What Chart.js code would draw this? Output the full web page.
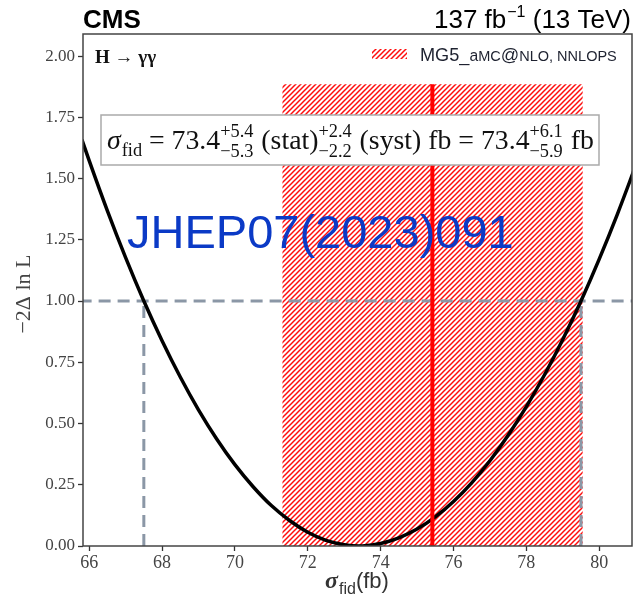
<!DOCTYPE html>
<html><head><meta charset="utf-8">
<script src="https://cdn.jsdelivr.net/npm/chart.js@4.4.1/dist/chart.umd.min.js"></script>
<style>html,body{margin:0;padding:0;background:#fff;}canvas{display:block;}</style>
</head><body>
<canvas id="c" width="633" height="597"></canvas>
<script>
// ---- data ----
const scanX = [65.8, 66, 66.5, 67, 67.5, 68, 68.5, 69, 69.5, 70, 70.5, 71, 71.5, 72, 72.5, 73, 73.4, 73.5, 74, 74.5, 75, 75.5, 76, 76.5, 77, 77.5, 78, 78.5, 79, 79.5, 80, 80.5, 81];
const scanY = [1.659, 1.573, 1.368, 1.177, 1.0, 0.838, 0.690, 0.556, 0.437, 0.332, 0.242, 0.165, 0.104, 0.056, 0.023, 0.005, 0.0, 0.0003, 0.010, 0.033, 0.069, 0.119, 0.182, 0.258, 0.348, 0.452, 0.569, 0.699, 0.843, 1.0, 1.171, 1.355, 1.552];
const bandX = [71.3, 79.55];
const bandTop = [1.885, 1.885];
const predX = [75.42, 75.42];
const predY = [0, 1.885];
const oneSigmaX = [67.5, 79.5];
const levelY = [1.0];
const xTicks = [66, 68, 70, 72, 74, 76, 78, 80];
const yTicks = [0, 0.25, 0.5, 0.75, 1.0, 1.25, 1.5, 1.75, 2.0];

// hatch pattern
function hatch() {
  const p = document.createElement('canvas');
  p.width = 5; p.height = 5;
  const g = p.getContext('2d');
  g.strokeStyle = 'rgba(255,0,0,0.95)';
  g.lineWidth = 1.5;
  g.beginPath();
  g.moveTo(0, 5); g.lineTo(5, 0);
  g.moveTo(-1, 1); g.lineTo(1, -1);
  g.moveTo(4, 6); g.lineTo(6, 4);
  g.stroke();
  return document.getElementById('c').getContext('2d').createPattern(p, 'repeat');
}
const pat = hatch();

const GRAY = '#8b97a6';
const SERIF = '"Liberation Serif", "DejaVu Serif", serif';
const SANS = '"Liberation Sans", Arial, sans-serif';

const overlay = {
  id: 'overlay',
  afterDraw(chart) {
    const ctx = chart.ctx, a = chart.chartArea;
    ctx.save();
    // frame
    ctx.strokeStyle = '#444'; ctx.lineWidth = 1.5;
    ctx.strokeRect(a.left, a.top, a.right - a.left, a.bottom - a.top);
    // header
    ctx.fillStyle = '#000'; ctx.textBaseline = 'alphabetic';
    ctx.font = 'bold 26px ' + SANS; ctx.textAlign = 'left';
    ctx.fillText('CMS', 83, 28);
    // lumi text right-aligned
    ctx.font = '26px ' + SANS;
    const p1 = '137 fb', p2 = '\u22121', p3 = ' (13 TeV)';
    const w1 = ctx.measureText(p1).width, w3 = ctx.measureText(p3).width;
    ctx.font = '16px ' + SANS; const w2 = ctx.measureText(p2).width;
    let x = 631 - (w1 + w2 + w3 + 1);
    ctx.font = '26px ' + SANS; ctx.fillText(p1, x, 28); x += w1 + 1;
    ctx.font = '16px ' + SANS; ctx.fillText(p2, x, 17); x += w2;
    ctx.font = '26px ' + SANS; ctx.fillText(p3, x, 28);
    // H -> gamma gamma
    ctx.font = 'bold 19px ' + SERIF; ctx.fillStyle = '#111';
    ctx.fillText('H \u2192 \u03b3\u03b3', 95, 63);
    // legend swatch
    ctx.fillStyle = pat; ctx.fillRect(372, 49, 35, 10);
    // legend text (small caps)
    const segs = [['MG5_', 15], ['a', 13], ['MC', 12], ['@', 15], ['NLO, NNLOPS', 12]];
    ctx.fillStyle = '#1e2230';
    let tw = 0;
    segs.forEach(s => { ctx.font = s[1] + 'px ' + SANS; tw += ctx.measureText(s[0]).width; });
    const sc = (617 - 420) / tw;
    x = 420;
    segs.forEach(s => { ctx.font = (s[1] * sc).toFixed(2) + 'px ' + SANS; ctx.fillText(s[0], x, 61); x += ctx.measureText(s[0]).width; });
    // result box
    ctx.fillStyle = '#fff'; ctx.fillRect(101, 115, 498, 50);
    ctx.strokeStyle = '#aaa'; ctx.lineWidth = 1.5; ctx.strokeRect(101, 115, 498, 50);
    drawResult(ctx, 107, 149, 595 - 107);
    // y title
    ctx.save();
    ctx.translate(24, 294); ctx.rotate(-Math.PI / 2);
    ctx.font = '22px ' + SERIF; ctx.fillStyle = '#444'; ctx.textAlign = 'center'; ctx.textBaseline = 'middle';
    ctx.fillText('\u22122\u0394 ln L', 0, 0);
    ctx.restore();
    // x title
    ctx.fillStyle = '#333';
    ctx.font = 'bold italic 24px ' + SERIF; const ws = ctx.measureText('\u03c3').width;
    ctx.font = '16px ' + SANS; const wf = ctx.measureText('fid').width;
    ctx.font = '22px ' + SANS; const wb = ctx.measureText('(fb)').width;
    x = 357 - (ws + wf + wb + 1) / 2;
    ctx.font = 'bold italic 24px ' + SERIF; ctx.fillText('\u03c3', x, 588); x += ws + 1;
    ctx.font = '16px ' + SANS; ctx.fillText('fid', x, 594); x += wf;
    ctx.font = '22px ' + SANS; ctx.fillText('(fb)', x, 588);
    // watermark
    ctx.fillStyle = '#0b3ac6'; ctx.font = '47px ' + SANS; ctx.textAlign = 'left';
    ctx.fillText('JHEP07(2023)091', 127, 248);
    ctx.restore();
  }
};

function drawResult(ctx, x0, base, target) {
  const parts = [
    {t: '\u03c3', k: 'mi'}, {t: 'fid', k: 'sub'}, {t: ' = 73.4', k: 'm'},
    {up: '+5.4', dn: '\u22125.3'}, {t: ' (stat)', k: 'm'},
    {up: '+2.4', dn: '\u22122.2'}, {t: ' (syst) fb = 73.4', k: 'm'},
    {up: '+6.1', dn: '\u22125.9'}, {t: ' fb', k: 'm'}
  ];
  function run(M, draw) {
    let x = x0;
    const S = M * 0.66;
    parts.forEach(p => {
      if (p.up) {
        ctx.font = S + 'px ' + SERIF;
        const w = Math.max(ctx.measureText(p.up).width, ctx.measureText(p.dn).width);
        if (draw) { ctx.fillText(p.up, x, base - M * 0.42); ctx.fillText(p.dn, x, base + M * 0.3); }
        x += w + 1;
      } else {
        ctx.font = (p.k === 'mi' ? 'italic ' : '') + (p.k === 'sub' ? S : M) + 'px ' + SERIF;
        if (draw) ctx.fillText(p.t, x, base + (p.k === 'sub' ? M * 0.25 : 0));
        x += ctx.measureText(p.t).width + (p.k === 'mi' ? 1 : 0);
      }
    });
    return x - x0;
  }
  ctx.fillStyle = '#111'; ctx.textAlign = 'left'; ctx.textBaseline = 'alphabetic';
  const w = run(22, false);
  run(22 * target / w, true);
}

const pts = (xs, ys) => xs.map((v, i) => ({x: v, y: ys[i]}));

new Chart(document.getElementById('c'), {
  type: 'scatter',
  data: {
    datasets: [
      {data: pts(bandX, bandTop), showLine: true, borderWidth: 0, borderColor: 'rgba(0,0,0,0)', fill: 'origin', backgroundColor: pat, pointRadius: 0, order: 5},
      {data: [{x: 60, y: levelY[0]}, {x: 90, y: levelY[0]}], showLine: true, borderColor: GRAY, borderWidth: 3, borderDash: [12, 7], pointRadius: 0, order: 4},
      {data: [{x: oneSigmaX[0], y: 0}, {x: oneSigmaX[0], y: levelY[0]}], showLine: true, borderColor: GRAY, borderWidth: 3, borderDash: [12, 7], pointRadius: 0, order: 4},
      {data: [{x: oneSigmaX[1], y: 0}, {x: oneSigmaX[1], y: levelY[0]}], showLine: true, borderColor: GRAY, borderWidth: 3, borderDash: [12, 7], pointRadius: 0, order: 4},
      {data: pts(scanX, scanY), showLine: true, borderColor: '#000', borderWidth: 3.5, cubicInterpolationMode: 'monotone', pointRadius: 0, order: 2},
      {data: pts(predX, predY), showLine: true, borderColor: '#ff0000', borderWidth: 4, pointRadius: 0, order: 1}
    ]
  },
  options: {
    responsive: false, animation: false, devicePixelRatio: 1,
    layout: {padding: {top: 34, right: 1, left: 0, bottom: 0}},
    plugins: {legend: {display: false}, tooltip: {enabled: false}},
    scales: {
      x: {
        type: 'linear', min: 65.83, max: 80.9,
        afterBuildTicks: ax => { ax.ticks = xTicks.map(v => ({value: v})); },
        afterFit: ax => { ax.height = 51; },
        grid: {drawOnChartArea: false, tickLength: 5, color: '#333', tickWidth: 1.3},
        border: {display: false},
        ticks: {font: {family: SERIF, size: 18}, color: '#444', padding: 1, maxRotation: 0, autoSkip: false, callback: v => String(v)}
      },
      y: {
        type: 'linear', min: 0, max: 2.09,
        afterBuildTicks: ax => { ax.ticks = yTicks.map(v => ({value: v})); },
        afterFit: ax => { ax.width = 83; },
        grid: {drawOnChartArea: false, tickLength: 5, color: '#333', tickWidth: 1.3},
        border: {display: false},
        ticks: {font: {family: SERIF, size: 17}, color: '#444', padding: 3, autoSkip: false, callback: v => v.toFixed(2)}
      }
    }
  },
  plugins: [overlay]
});
</script>
</body></html>
